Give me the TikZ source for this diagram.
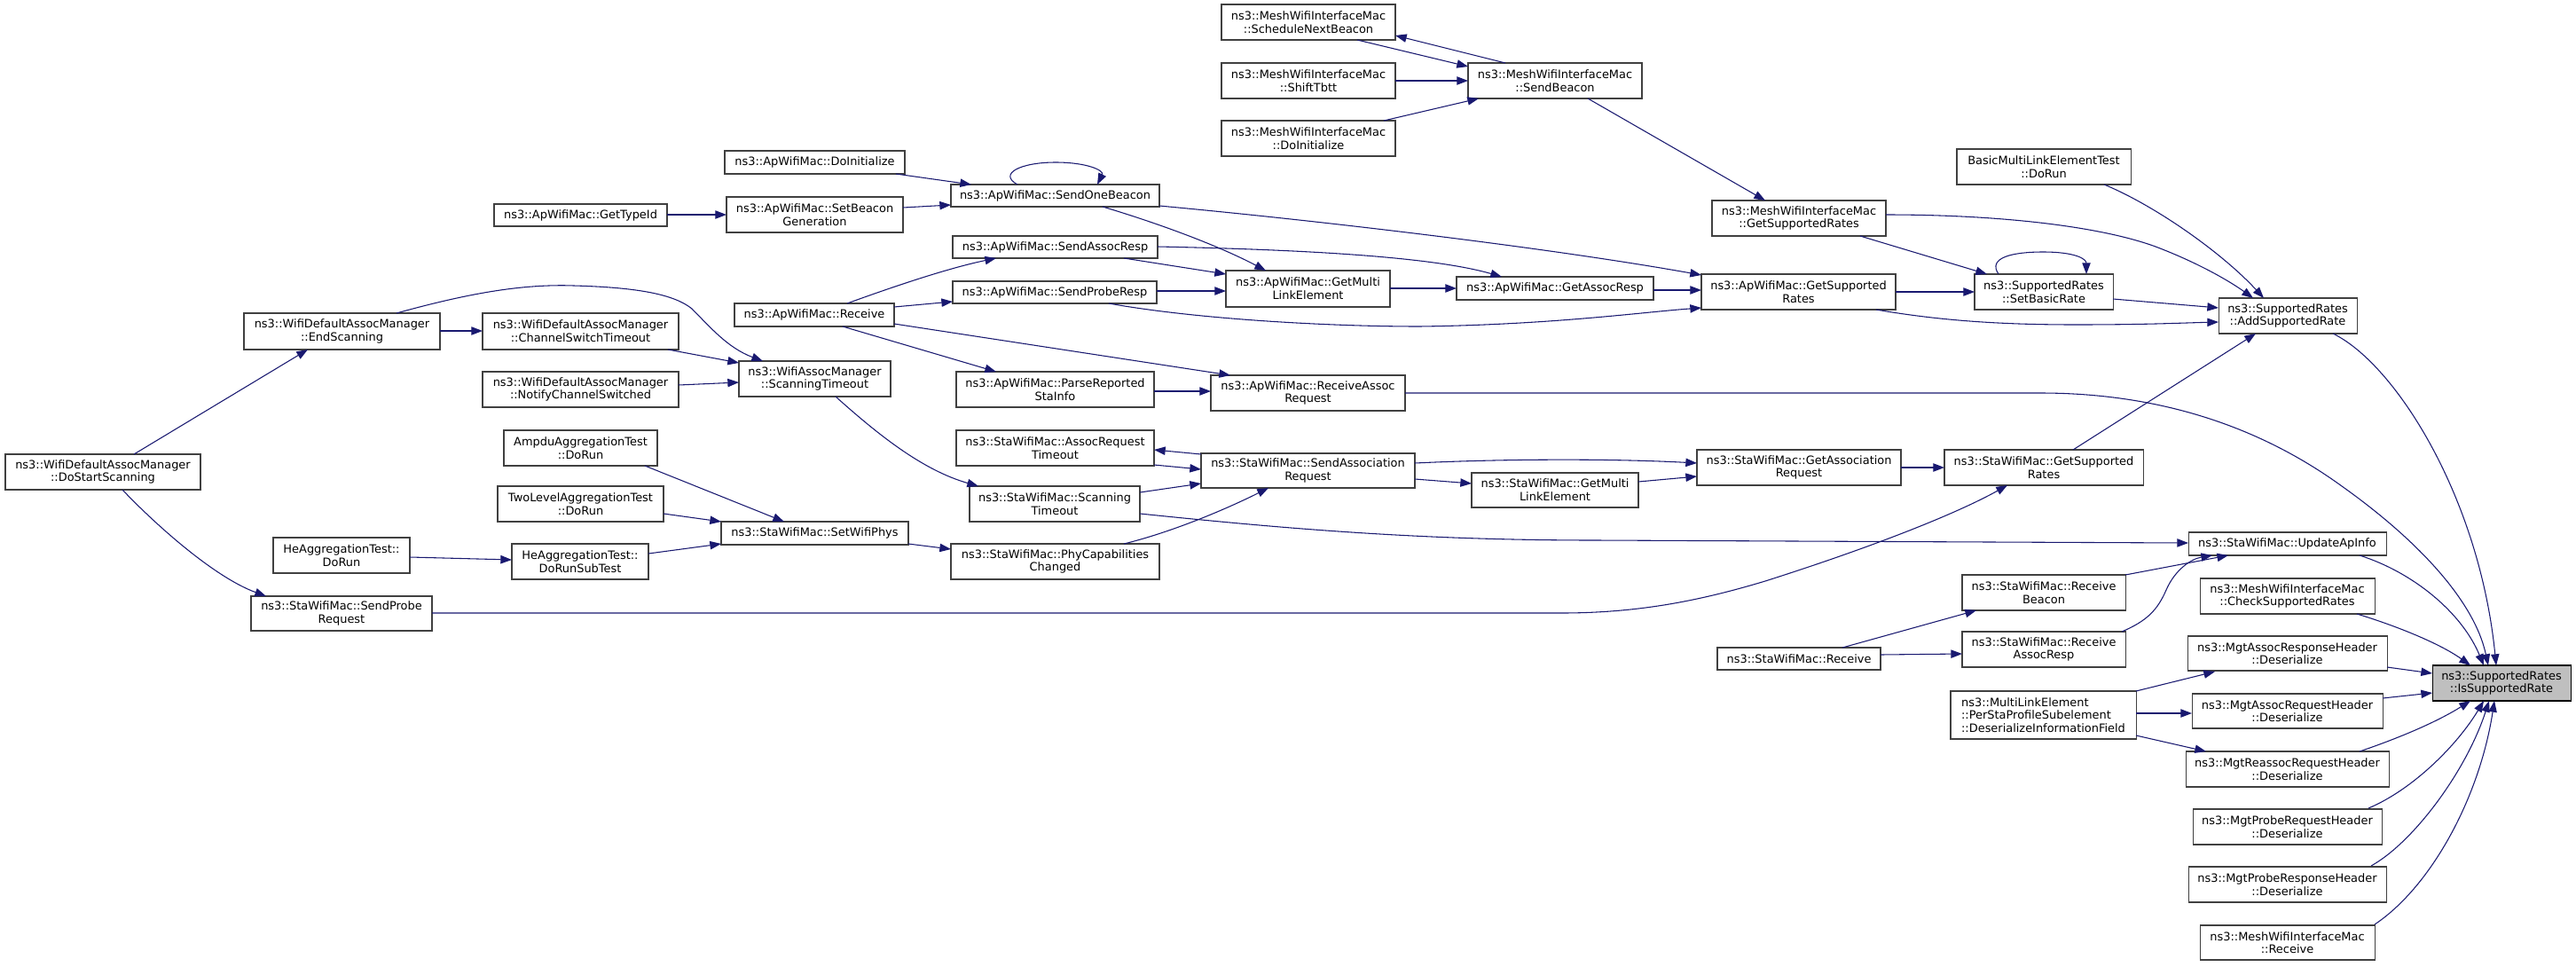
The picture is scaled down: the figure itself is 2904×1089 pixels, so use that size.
\documentclass[tikz,border=0pt]{standalone}
\usepackage{fontspec}
\setmainfont{DejaVu Sans}
\usetikzlibrary{arrows.meta,calc}
\definecolor{edgec}{HTML}{191970}
\definecolor{boxc}{HTML}{404040}
\definecolor{hl}{HTML}{BFBFBF}
\tikzset{
  nbox/.style={draw=boxc, fill=white, line width=0.8pt, inner sep=0pt, outer sep=0pt,
    align=center, font=\fontsize{9.7}{11}\selectfont},
  conn/.style={draw=edgec, line width=0.8pt, -{Triangle[length=9.5pt,width=7pt]}}
}
% node from box corners (px): [opts]{name}{x1}{y1}{x2}{y2}{text}
\newcommand\Nd[7][]{%
  \expandafter\xdef\csname nx#2\endcsname{#3}%
  \expandafter\xdef\csname ny#2\endcsname{#4}%
  \pgfmathsetmacro\ndw{(#5-#3)*0.75}%
  \pgfmathsetmacro\ndh{(#6-#4)*0.75}%
  \pgfmathsetmacro\ndx{(#3+#5)/2}%
  \pgfmathsetmacro\ndy{(#4+#6)/2}%
  \node[nbox,minimum width=\ndw pt,minimum height=\ndh pt,#1] (#2) at (\ndx,\ndy) {#7};%
}
% point on a node, given in picture px, expressed relative to the node's north west corner
\newcommand\EPt[3]{([shift={(#2-\csname nx#1\endcsname,#3-\csname ny#1\endcsname)}]#1.north west)}
\begin{document}
\begin{tikzpicture}[x=0.75pt,y=-0.75pt]
\useasboundingbox (0,0) rectangle (2904,1089);

\Nd{dss}{6}{512}{226}{552}{ns3::WifiDefaultAssocManager\\::DoStartScanning}
\Nd{es}{275}{353}{496}{394}{ns3::WifiDefaultAssocManager\\::EndScanning}
\Nd{cst}{544}{353}{765}{394}{ns3::WifiDefaultAssocManager\\::ChannelSwitchTimeout}
\Nd{ncs}{544}{419}{765}{459}{ns3::WifiDefaultAssocManager\\::NotifyChannelSwitched}
\Nd{ampdu}{568}{485}{741}{525}{AmpduAggregationTest\\::DoRun}
\Nd{twolevel}{561}{548}{748}{588}{TwoLevelAggregationTest\\::DoRun}
\Nd{hedorun}{308}{606}{462}{646}{HeAggregationTest::\\DoRun}
\Nd{subtest}{577}{613}{731}{653}{HeAggregationTest::\\DoRunSubTest}
\Nd{spr}{283}{672}{487}{711}{ns3::StaWifiMac::SendProbe\\Request}
\Nd{gettypeid}{557}{230}{752}{255}{ns3::ApWifiMac::GetTypeId}
\Nd{apdoinit}{817}{170}{1020}{196}{ns3::ApWifiMac::DoInitialize}
\Nd{sbg}{819}{222}{1018}{262}{ns3::ApWifiMac::SetBeacon\\Generation}
\Nd{aprecv}{828}{342}{1008}{368}{ns3::ApWifiMac::Receive}
\Nd{wst}{833}{407}{1004}{447}{ns3::WifiAssocManager\\::ScanningTimeout}
\Nd{swp}{813}{588}{1024}{614}{ns3::StaWifiMac::SetWifiPhys}
\Nd{sob}{1072}{208}{1307}{233}{ns3::ApWifiMac::SendOneBeacon}
\Nd{sar}{1074}{266}{1305}{291}{ns3::ApWifiMac::SendAssocResp}
\Nd{sprs}{1074}{317}{1304}{342}{ns3::ApWifiMac::SendProbeResp}
\Nd{prsi}{1078}{419}{1301}{459}{ns3::ApWifiMac::ParseReported\\StaInfo}
\Nd{art}{1078}{485}{1301}{525}{ns3::StaWifiMac::AssocRequest\\Timeout}
\Nd{sst}{1093}{548}{1285}{588}{ns3::StaWifiMac::Scanning\\Timeout}
\Nd{pcc}{1072}{613}{1307}{653}{ns3::StaWifiMac::PhyCapabilities\\Changed}
\Nd{snb}{1377}{5}{1573}{45}{ns3::MeshWifiInterfaceMac\\::ScheduleNextBeacon}
\Nd{stb}{1377}{71}{1573}{111}{ns3::MeshWifiInterfaceMac\\::ShiftTbtt}
\Nd{mdi}{1377}{136}{1573}{176}{ns3::MeshWifiInterfaceMac\\::DoInitialize}
\Nd{apgml}{1382}{305}{1567}{346}{ns3::ApWifiMac::GetMulti\\LinkElement}
\Nd{rar}{1365}{423}{1584}{463}{ns3::ApWifiMac::ReceiveAssoc\\Request}
\Nd{sasr}{1354}{511}{1595}{550}{ns3::StaWifiMac::SendAssociation\\Request}
\Nd{sbe}{1655}{71}{1851}{111}{ns3::MeshWifiInterfaceMac\\::SendBeacon}
\Nd{gar}{1642}{312}{1864}{338}{ns3::ApWifiMac::GetAssocResp}
\Nd{stagml}{1659}{533}{1847}{572}{ns3::StaWifiMac::GetMulti\\LinkElement}
\Nd{apgsr}{1918}{309}{2137}{349}{ns3::ApWifiMac::GetSupported\\Rates}
\Nd{gasr}{1913}{507}{2143}{547}{ns3::StaWifiMac::GetAssociation\\Request}
\Nd{mgsr}{1930}{226}{2126}{266}{ns3::MeshWifiInterfaceMac\\::GetSupportedRates}
\Nd{bml}{2206}{168}{2402}{208}{BasicMultiLinkElementTest\\::DoRun}
\Nd{sbr}{2226}{309}{2382}{349}{ns3::SupportedRates\\::SetBasicRate}
\Nd{stagsr}{2192}{507}{2416}{547}{ns3::StaWifiMac::GetSupported\\Rates}
\Nd{asr}{2501}{336}{2657}{376}{ns3::SupportedRates\\::AddSupportedRate}
\Nd{starecv}{1936}{730}{2120}{755}{ns3::StaWifiMac::Receive}
\Nd{rb}{2212}{648}{2396}{688}{ns3::StaWifiMac::Receive\\Beacon}
\Nd{rasr}{2212}{712}{2396}{752}{ns3::StaWifiMac::Receive\\AssocResp}
\Nd[align=left]{dif}{2199}{779}{2408}{833}{ns3::MultiLinkElement\\::PerStaProfileSubelement\\::DeserializeInformationField}
\Nd{uai}{2467}{600}{2690}{626}{ns3::StaWifiMac::UpdateApInfo}
\Nd{csr}{2480}{652}{2677}{692}{ns3::MeshWifiInterfaceMac\\::CheckSupportedRates}
\Nd{marh}{2466}{717}{2691}{756}{ns3::MgtAssocResponseHeader\\::Deserialize}
\Nd{marq}{2471}{782}{2686}{821}{ns3::MgtAssocRequestHeader\\::Deserialize}
\Nd{mrrq}{2464}{847}{2693}{887}{ns3::MgtReassocRequestHeader\\::Deserialize}
\Nd{mprq}{2472}{912}{2685}{952}{ns3::MgtProbeRequestHeader\\::Deserialize}
\Nd{mprs}{2467}{977}{2690}{1017}{ns3::MgtProbeResponseHeader\\::Deserialize}
\Nd{mrecv}{2480}{1043}{2677}{1082}{ns3::MeshWifiInterfaceMac\\::Receive}
\Nd[fill=hl,draw=black]{isr}{2742}{750}{2898}{790}{ns3::SupportedRates\\::IsSupportedRate}

% connectors
\draw[conn] \EPt{dss}{151}{512} -- \EPt{es}{347}{394};
\draw[conn] \EPt{dss}{138}{552} .. controls (172,588) and (240,650) .. \EPt{spr}{300}{672};
\draw[conn] \EPt{es}{496}{373} -- \EPt{cst}{544}{373};
\draw[conn] \EPt{es}{447}{353} .. controls (530,330) and (590,320) .. (647,322) .. controls (720,324) and (760,332) .. (780,348) .. controls (800,368) and (820,392) .. \EPt{wst}{860}{407};
\draw[conn] \EPt{cst}{753}{394} -- \EPt{wst}{833}{409};
\draw[conn] \EPt{ncs}{765}{434} -- \EPt{wst}{833}{431};
\draw[conn] \EPt{wst}{942}{447} .. controls (990,490) and (1040,530) .. \EPt{sst}{1103}{548};
\draw[conn] \EPt{gettypeid}{752}{242} -- \EPt{sbg}{819}{242};
\draw[conn] \EPt{apdoinit}{1010}{196} -- \EPt{sob}{1095}{208};
\draw[conn] \EPt{sbg}{1018}{234} -- \EPt{sob}{1072}{231};
\draw[conn] \EPt{sob}{1147}{208} .. controls (1125,196) and (1150,183) .. (1190,183) .. controls (1225,183) and (1245,192) .. \EPt{sob}{1237}{208};
\draw[conn] \EPt{sob}{1307}{232} .. controls (1500,250) and (1750,280) .. \EPt{apgsr}{1918}{310};
\draw[conn] \EPt{sob}{1243}{233} .. controls (1300,250) and (1370,275) .. \EPt{apgml}{1427}{305};
\draw[conn] \EPt{sar}{1267}{291} -- \EPt{apgml}{1382}{309};
\draw[conn] \EPt{sprs}{1304}{328} -- \EPt{apgml}{1382}{328};
\draw[conn] \EPt{sar}{1305}{278} .. controls (1450,281) and (1610,288) .. \EPt{gar}{1693}{312};
\draw[conn] \EPt{sprs}{1250}{342} .. controls (1350,360) and (1500,368) .. (1600,368) .. controls (1750,366) and (1850,352) .. \EPt{apgsr}{1918}{347};
\draw[conn] \EPt{apgml}{1567}{325} -- \EPt{gar}{1642}{325};
\draw[conn] \EPt{gar}{1864}{327} -- \EPt{apgsr}{1918}{327};
\draw[conn] \EPt{aprecv}{955}{342} .. controls (1010,322) and (1070,302) .. \EPt{sar}{1123}{291};
\draw[conn] \EPt{aprecv}{1008}{346} -- \EPt{sprs}{1074}{340};
\draw[conn] \EPt{aprecv}{950}{368} -- \EPt{prsi}{1123}{419};
\draw[conn] \EPt{aprecv}{1008}{365} -- \EPt{rar}{1387}{423};
\draw[conn] \EPt{prsi}{1301}{441} -- \EPt{rar}{1365}{441};
\draw[conn] \EPt{rar}{1584}{443} -- (2300,443) .. controls (2450,443) and (2560,490) .. (2640,548) .. controls (2730,612) and (2790,680) .. \EPt{isr}{2805}{750};
\draw[conn] \EPt{sasr}{1354}{512} -- \EPt{art}{1301}{507};
\draw[conn] \EPt{art}{1301}{524} -- \EPt{sasr}{1354}{529};
\draw[conn] \EPt{sst}{1285}{555} -- \EPt{sasr}{1354}{545};
\draw[conn] \EPt{pcc}{1267}{613} .. controls (1320,600) and (1380,575) .. \EPt{sasr}{1430}{550};
\draw[conn] \EPt{sst}{1285}{579} .. controls (1450,596) and (1600,609) .. (1800,609) -- \EPt{uai}{2467}{612};
\draw[conn] \EPt{sasr}{1595}{522} .. controls (1700,517) and (1820,517) .. \EPt{gasr}{1913}{522};
\draw[conn] \EPt{sasr}{1595}{540} -- \EPt{stagml}{1659}{545};
\draw[conn] \EPt{stagml}{1847}{543} -- \EPt{gasr}{1913}{537};
\draw[conn] \EPt{gasr}{2143}{527} -- \EPt{stagsr}{2192}{527};
\draw[conn] \EPt{stagsr}{2337}{507} -- \EPt{asr}{2543}{376};
\draw[conn] \EPt{apgsr}{2115}{349} .. controls (2190,362) and (2260,366) .. (2340,366) .. controls (2420,366) and (2460,364) .. \EPt{asr}{2501}{363};
\draw[conn] \EPt{apgsr}{2137}{329} -- \EPt{sbr}{2226}{329};
\draw[conn] \EPt{sbr}{2382}{337} -- \EPt{asr}{2501}{347};
\draw[conn] \EPt{sbr}{2253}{309} .. controls (2240,290) and (2270,284) .. (2303,284) .. controls (2340,284) and (2352,292) .. \EPt{sbr}{2352}{309};
\draw[conn] \EPt{mgsr}{2097}{266} -- \EPt{sbr}{2240}{309};
\draw[conn] \EPt{mgsr}{2126}{242} .. controls (2260,242) and (2370,256) .. (2430,278) .. controls (2480,297) and (2515,318) .. \EPt{asr}{2540}{336};
\draw[conn] \EPt{bml}{2372}{208} .. controls (2430,232) and (2505,285) .. \EPt{asr}{2552}{336};
\draw[conn] \EPt{sbe}{1790}{111} -- \EPt{mgsr}{1990}{226};
\draw[conn] \EPt{snb}{1530}{45} -- \EPt{sbe}{1655}{75};
\draw[conn] \EPt{sbe}{1697}{71} -- \EPt{snb}{1573}{40};
\draw[conn] \EPt{stb}{1573}{91} -- \EPt{sbe}{1655}{91};
\draw[conn] \EPt{mdi}{1560}{136} -- \EPt{sbe}{1667}{111};
\draw[conn] \EPt{ampdu}{727}{525} -- \EPt{swp}{884}{588};
\draw[conn] \EPt{twolevel}{748}{579} -- \EPt{swp}{813}{588};
\draw[conn] \EPt{subtest}{731}{624} -- \EPt{swp}{813}{613};
\draw[conn] \EPt{hedorun}{462}{628} -- \EPt{subtest}{577}{631};
\draw[conn] \EPt{swp}{1024}{613} -- \EPt{pcc}{1072}{619};
\draw[conn] \EPt{spr}{487}{691} -- (1760,691) .. controls (1850,691) and (1920,676) .. (1990,655) .. controls (2100,620) and (2200,582) .. \EPt{stagsr}{2263}{547};
\draw[conn] \EPt{starecv}{2077}{730} -- \EPt{rb}{2228}{688};
\draw[conn] \EPt{starecv}{2120}{738} -- \EPt{rasr}{2212}{737};
\draw[conn] \EPt{rb}{2396}{648} -- \EPt{uai}{2512}{626};
\draw[conn] \EPt{rasr}{2392}{712} .. controls (2420,700) and (2432,688) .. (2442,665) .. controls (2452,642) and (2470,630) .. \EPt{uai}{2494}{626};
\draw[conn] \EPt{dif}{2408}{779} -- \EPt{marh}{2497}{757};
\draw[conn] \EPt{dif}{2408}{804} -- \EPt{marq}{2471}{804};
\draw[conn] \EPt{dif}{2408}{829} -- \EPt{mrrq}{2487}{847};
\draw[conn] \EPt{asr}{2630}{376} .. controls (2700,410) and (2795,560) .. \EPt{isr}{2814}{750};
\draw[conn] \EPt{uai}{2660}{626} .. controls (2720,645) and (2775,690) .. \EPt{isr}{2800}{750};
\draw[conn] \EPt{csr}{2657}{692} .. controls (2700,705) and (2750,725) .. \EPt{isr}{2785}{750};
\draw[conn] \EPt{marh}{2691}{752} -- \EPt{isr}{2742}{759};
\draw[conn] \EPt{marq}{2686}{787} -- \EPt{isr}{2742}{781};
\draw[conn] \EPt{mrrq}{2660}{847} .. controls (2710,830) and (2750,812) .. \EPt{isr}{2785}{790};
\draw[conn] \EPt{mprq}{2670}{911} .. controls (2720,890) and (2770,840) .. \EPt{isr}{2800}{790};
\draw[conn] \EPt{mprs}{2673}{976} .. controls (2720,950) and (2780,870) .. \EPt{isr}{2806}{790};
\draw[conn] \EPt{mrecv}{2677}{1042} .. controls (2740,1000) and (2795,900) .. \EPt{isr}{2812}{790};
\end{tikzpicture}
\end{document}
